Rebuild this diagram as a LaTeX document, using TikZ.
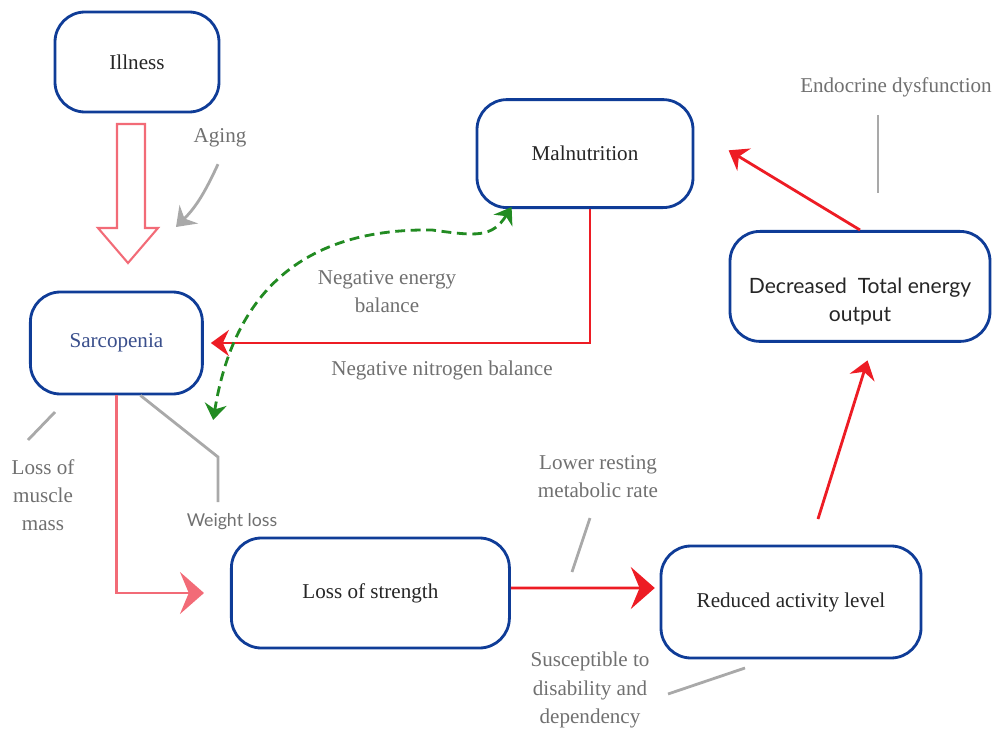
\documentclass[tikz,border=0pt]{standalone}
\usepackage{fontspec}
\setmainfont{Liberation Serif}
\setsansfont{Lato}
\usetikzlibrary{positioning, arrows.meta, calc}
\definecolor{boxblue}{HTML}{0F3C97}
\definecolor{sarcblue}{HTML}{3A4F8C}
\definecolor{linkred}{HTML}{ED1C24}
\definecolor{linkpink}{HTML}{F26B77}
\definecolor{linkgreen}{HTML}{228B22}
\definecolor{linkgray}{HTML}{A9A9A9}
\definecolor{labelgray}{HTML}{707070}
\tikzset{
  box/.style={rectangle, draw=boxblue, line width=2pt, rounded corners=0.75cm,
              fill=white, align=center, text=black!85},
  lbl/.style={text=labelgray, align=center},
  bighead/.style={-{Stealth[length=0.6cm, width=1.05cm, inset=0.22cm]}},
  smallhead/.style={-{Stealth[length=0.45cm, width=0.65cm, inset=0.15cm]}},
  redarrow/.style={draw=linkred, line width=2pt},
  pinkarrow/.style={draw=linkpink, line width=2pt},
  grayline/.style={draw=linkgray, line width=2pt},
  greendash/.style={draw=linkgreen, line width=2pt, dash pattern=on 7pt off 4pt},
  hollowarrow/.style={draw=linkpink, line width=1.5pt, fill=white}
}

\begin{document}
\begin{tikzpicture}[font=\fontsize{15}{20}\selectfont]
  \useasboundingbox (0,0) rectangle (24.8,-18.25);
  \node[box, minimum width=4.1cm, minimum height=2.5cm] (ill) at (3.425,-1.55) {Illness};
  \node[box, minimum width=4.3cm, minimum height=2.55cm, text=sarcblue] (sarc) at (2.91,-8.575) {Sarcopenia};
  \node[box, minimum width=5.4cm, minimum height=2.7cm] (mal) at (14.625,-3.84) {Malnutrition};
  \node[box, minimum width=6.5cm, minimum height=2.75cm, font=\sffamily\fontsize{15}{20}\selectfont] (dec) at (21.5,-7.16)
    {\rule{0pt}{32pt}Decreased~~Total energy\\output};
  \node[box, minimum width=6.95cm, minimum height=2.75cm] (los) at (9.26,-14.825) {Loss of strength};
  \node[box, minimum width=6.5cm, minimum height=2.8cm] (act) at (19.775,-15.05) {Reduced activity level};

  \node[lbl] (aging) at (5.5,-3.45) {Aging};
  \node[lbl] (neb) at (9.675,-7.3) {Negative energy\\balance};
  \node[lbl] (nnb) at (11.05,-9.25) {Negative nitrogen balance};
  \node[lbl] (lmm) at (1.075,-12.375) {Loss of\\muscle\\mass};
  \node[lbl, font=\sffamily\fontsize{12.6}{15}\selectfont] (wl) at (5.8,-13.05) {Weight loss};
  \node[lbl] (lrm) at (14.95,-11.925) {Lower resting\\metabolic rate};
  \node[lbl] (sdd) at (14.75,-17.25) {Susceptible to\\disability and\\dependency};
  \node[lbl] (endo) at (22.4,-2.175) {Endocrine dysfunction};

  \coordinate (agetip) at (4.4,-5.675);
  \coordinate (gtip) at (5.33,-10.5);
  \coordinate (mpt) at ($(mal.south west)+(0.9,0.05)$);

  \draw[hollowarrow] (2.925,-3.1) -- (3.625,-3.1) -- (3.625,-5.7) -- (3.95,-5.7)
    -- (3.2,-6.575) -- (2.45,-5.7) -- (2.925,-5.7) -- cycle;
  \draw[grayline, smallhead] ($(aging.south)+(-0.05,-0.3)$) to[out=-115, in=45] (agetip);
  \draw[redarrow, smallhead, shorten >=5pt] ($(mal.south)+(0.125,0)$) |- (sarc.east);
  \draw[greendash, {Stealth[length=0.4cm, width=0.55cm, inset=0.13cm]}-{Stealth[length=0.4cm, width=0.55cm, inset=0.13cm]}]
    (mpt) .. controls (12.3,-5.95) and (11.9,-5.9) .. (10.8,-5.75)
    .. controls (7.3,-5.7) and (5.8,-7.6) .. (gtip);
  \draw[pinkarrow, bighead, shorten >=0.65cm] (sarc.south) |- (los.west);
  \draw[grayline] (1.375,-10.3) -- (0.7,-11);
  \draw[grayline] ($(sarc.south)+(0.6,0)$) -- (5.45,-11.425) -- (5.45,-12.55);
  \draw[redarrow, bighead, shorten >=0.12cm] ($(los.east)+(0,0.125)$) -- ($(act.west)+(0,0.35)$);
  \draw[grayline] (14.75,-12.95) -- (14.3,-14.3);
  \draw[grayline] (18.625,-16.7) -- (16.7,-17.35);
  \draw[redarrow, smallhead, shorten <=0.67cm, shorten >=0.46cm] ($(act.north)+(0.475,0)$) -- ($(dec.south)+(0.325,0)$);
  \draw[redarrow, smallhead, shorten >=1cm] (dec.north) -- ($(mal.east)+(0,0.6)$);
  \draw[grayline] (21.95,-2.875) -- (21.95,-4.825);
\end{tikzpicture}
\end{document}
